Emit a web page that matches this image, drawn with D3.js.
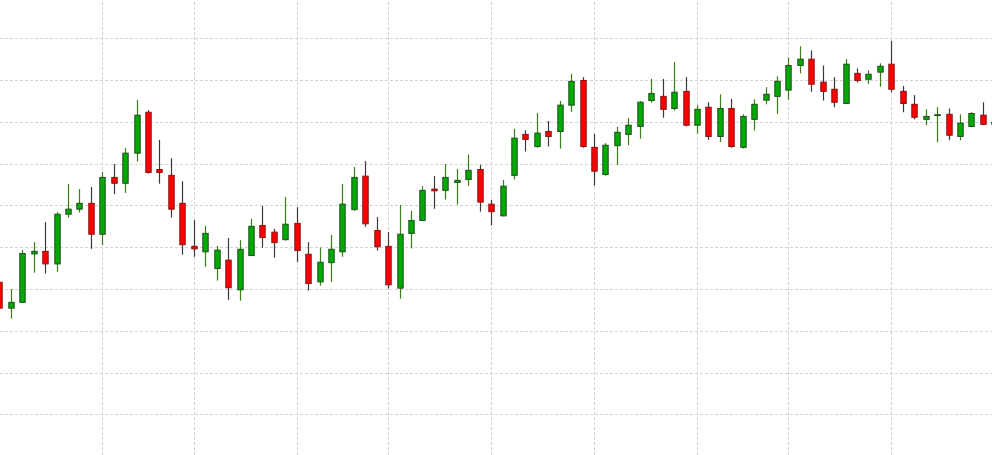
<!DOCTYPE html>
<html>
<head>
<meta charset="utf-8">
<script src="https://cdn.jsdelivr.net/npm/d3@7/dist/d3.min.js"></script>
<style>
  html, body { margin: 0; padding: 0; background: #ffffff; }
  svg { display: block; }
</style>
</head>
<body>
<svg id="chart" width="992" height="455"></svg>
<script>
// ---- Data ----
const days = d3.range(88); // trading-day index (categories)
const open  = [131.6,125.4,126.8,138.4,139.0,136.0,147.9,149.1,150.5,143.1,
               156.7,155.3,162.5,172.3,158.6,157.2,150.5,140.2,138.9,134.9,
               136.9,129.8,138.0,145.2,143.6,141.8,145.7,138.3,131.7,136.3,
               138.9,149.0,157.0,144.0,140.2,130.2,143.3,146.4,153.9,153.6,
               155.5,156.2,158.6,150.3,147.5,157.2,167.0,164.1,167.7,167.7,
               174.0,179.9,163.9,157.4,164.3,167.0,168.9,175.1,176.1,173.2,
               177.3,169.2,173.5,166.5,173.2,163.9,170.6,175.2,176.1,177.6,
               183.5,185.0,179.5,177.8,174.4,181.6,180.2,181.9,183.8,177.3,
               174.2,170.6,171.6,171.8,166.5,168.9,171.6,169.4];
const high  = [131.7,130.0,139.3,141.2,146.0,148.4,155.1,153.9,154.4,158.0,
               159.9,163.7,175.2,172.8,165.7,161.3,155.8,146.5,145.1,140.3,
               142.2,141.7,146.8,149.9,144.4,152.0,149.6,141.2,139.9,142.9,
               155.1,159.2,160.6,147.2,143.6,150.1,148.7,154.6,157.0,159.9,
               158.7,162.2,159.7,151.3,156.1,168.3,168.0,172.1,170.2,175.0,
               181.5,180.7,167.1,164.9,168.8,170.9,175.0,180.3,180.3,184.3,
               180.7,174.0,174.7,176.6,175.5,171.8,175.4,178.3,180.9,185.4,
               188.1,187.1,183.5,180.7,185.0,182.8,182.3,184.0,189.4,178.6,
               176.4,173.0,173.5,173.2,171.8,172.3,174.7,170.2];
const low   = [125.2,122.9,126.7,133.9,133.7,134.1,147.1,148.3,139.6,140.5,
               152.7,153.0,160.5,157.6,155.2,147.1,138.2,137.7,135.3,132.0,
               127.4,127.2,137.9,139.9,137.5,141.6,136.5,129.6,130.8,131.7,
               137.7,148.7,144.9,139.2,130.1,127.7,139.7,146.4,149.2,151.4,
               150.2,154.7,148.5,145.2,147.4,156.2,162.9,163.8,164.1,163.6,
               172.4,163.8,154.7,157.1,159.7,164.4,166.0,174.6,171.0,172.7,
               168.9,167.2,165.7,165.2,163.8,163.6,167.9,174.2,171.9,175.3,
               181.6,177.2,175.1,173.5,174.4,179.4,179.1,178.4,177.1,172.3,
               170.6,169.2,165.1,165.6,165.6,168.7,169.2,169.2];
const close = [125.4,126.8,138.5,139.0,136.0,147.9,149.1,150.5,143.1,156.7,
               155.3,162.5,171.6,157.9,157.9,149.1,140.6,139.6,143.3,139.3,
               130.3,139.5,145.0,142.3,141.1,145.5,139.2,131.3,136.4,139.5,
               150.3,156.7,145.6,140.1,131.0,143.1,146.4,153.6,153.5,156.7,
               156.0,158.4,150.8,148.5,154.6,166.1,165.8,167.3,166.5,174.0,
               179.7,164.1,158.2,164.4,167.5,169.2,174.7,176.8,173.0,177.1,
               169.2,173.0,166.5,173.2,164.1,171.3,174.2,176.6,179.7,183.5,
               185.0,179.0,177.3,174.7,183.8,179.9,181.4,183.3,177.8,174.4,
               171.1,171.3,171.7,166.8,169.7,172.0,169.4,169.9];
const priceTicks = [100,110,120,130,140,150,160,170,180,190];
const dayTicks = [9,17,26,34,43,52,61,69,78];

// ---- Layout ----
const W = 992, H = 455;
const svg = d3.select("#chart");

const x = d3.scaleLinear().domain([0, 87]).range([-0.6, -0.6 + 11.435 * 87]);
const y = d3.scaleLinear().domain([100, 190]).range([414.3, 38.3]);
const bodyW = 5.4;

const candles = days.map((d, i) => ({
  d, o: open[i], h: high[i], l: low[i], c: close[i]
}));

// Gridlines via axes
const gY = svg.append("g").attr("class", "grid-y")
  .call(d3.axisLeft(y).tickValues(priceTicks).tickSize(-W).tickFormat(""))
  .attr("transform", "translate(0,0)");
const gX = svg.append("g").attr("class", "grid-x")
  .attr("transform", `translate(0,${H})`)
  .call(d3.axisBottom(x).tickValues(dayTicks).tickSize(-H).tickFormat(""));

svg.selectAll(".grid-y .domain, .grid-x .domain").remove();
svg.selectAll(".grid-y line, .grid-x line")
  .attr("stroke", "#d2d2d2")
  .attr("stroke-width", 1)
  .attr("stroke-dasharray", "3,2")
  .attr("shape-rendering", "crispEdges");

// Candles
const g = svg.append("g");
const up = c => c.c >= c.o;

g.selectAll("line.wick").data(candles).join("line")
  .attr("class", "wick")
  .attr("x1", c => Math.round(x(c.d)) + 0.5)
  .attr("x2", c => Math.round(x(c.d)) + 0.5)
  .attr("y1", c => y(c.h))
  .attr("y2", c => y(c.l))
  .attr("stroke", c => up(c) ? "#3a7d14" : "#3a3a3a")
  .attr("stroke-width", 1.2);

g.selectAll("rect.body").data(candles).join("rect")
  .attr("class", "body")
  .attr("x", c => Math.round(x(c.d)) + 0.5 - bodyW / 2)
  .attr("y", c => y(Math.max(c.o, c.c)))
  .attr("width", bodyW)
  .attr("height", c => Math.max(0.8, Math.abs(y(c.o) - y(c.c))))
  .attr("fill", c => up(c) ? "#00aa00" : "#ff0000")
  .attr("stroke", c => up(c) ? "#1f4f1f" : "#8b1010")
  .attr("stroke-width", 1);
</script>
</body>
</html>
